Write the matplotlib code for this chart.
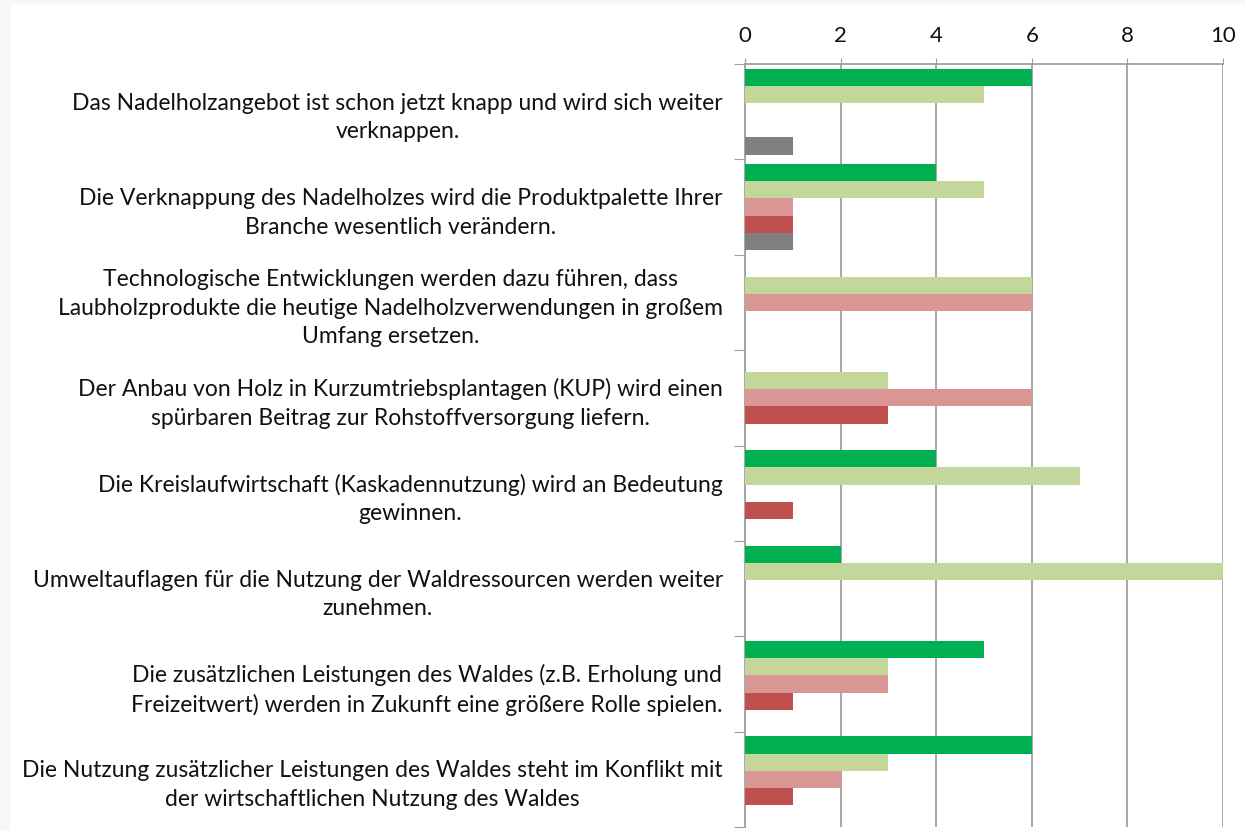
import matplotlib
matplotlib.use('Agg')
import matplotlib.pyplot as plt
import numpy as np

# statements (top to bottom)
labels = [
    'Das Nadelholzangebot ist schon jetzt knapp und wird sich weiter\nverknappen.',
    'Die Verknappung des Nadelholzes wird die Produktpalette Ihrer\nBranche wesentlich verändern.',
    'Technologische Entwicklungen werden dazu führen, dass\nLaubholzprodukte die heutige Nadelholzverwendungen in großem\nUmfang ersetzen.',
    'Der Anbau von Holz in Kurzumtriebsplantagen (KUP) wird einen\nspürbaren Beitrag zur Rohstoffversorgung liefern.',
    'Die Kreislaufwirtschaft (Kaskadennutzung) wird an Bedeutung\ngewinnen.',
    'Umweltauflagen für die Nutzung der Waldressourcen werden weiter\nzunehmen.',
    'Die zusätzlichen Leistungen des Waldes (z.B. Erholung und\nFreizeitwert) werden in Zukunft eine größere Rolle spielen.',
    'Die Nutzung zusätzlicher Leistungen des Waldes steht im Konflikt mit\nder wirtschaftlichen Nutzung des Waldes',
]

# answer counts per series
dark_green = [6, 4, 0, 0, 4, 2, 5, 6]
light_green = [5, 5, 6, 3, 7, 10, 3, 3]
pink = [0, 1, 6, 6, 0, 0, 3, 2]
red = [0, 1, 0, 3, 1, 0, 1, 1]
grey = [1, 1, 0, 0, 0, 0, 0, 0]

series = [dark_green, light_green, pink, red, grey]
colors = ['#00B050', '#C4D79B', '#DA9694', '#C0504D', '#808080']

plt.rcParams['font.family'] = 'Lato'

fig = plt.figure(figsize=(12.46, 8.31), dpi=100, facecolor='#f8f8f8')
fig.patches.append(plt.Rectangle((11 / 1246, 0), 1, 1 - 5 / 831,
                                 transform=fig.transFigure, color='white', zorder=-5))
ax = fig.add_axes([745 / 1246, 4 / 831, 478 / 1246, 763 / 831])
ax.set_zorder(2)
ax.patch.set_alpha(0)

n = len(labels)
y = np.arange(n)
bh = 0.18
for i, (vals, c) in enumerate(zip(series, colors)):
    ax.barh(y - 0.36 + i * bh, vals, height=bh, color=c, zorder=3)

ax.set_xlim(0, 10)
ax.set_ylim(n - 0.5, -0.5)
ax.xaxis.tick_top()
ax.set_xticks(range(0, 11, 2))
ax.tick_params(axis='x', length=4, color='#a0a0a0', labelsize=16, pad=9, labelcolor='#111111')
ax.grid(axis='x', color='#a0a0a0', linewidth=1.3, zorder=0)

# boundaries as major ticks, labels on minor ticks
ax.set_yticks(np.arange(-0.5, n, 1))
ax.set_yticklabels([])
ax.set_yticks(y, minor=True)
ax.set_yticklabels(labels, minor=True, fontsize=16.5, color='#111111')
ax.tick_params(axis='y', which='major', length=8, color='#a0a0a0')
ax.tick_params(axis='y', which='minor', length=0, pad=16)
for t in ax.get_yticklabels(minor=True):
    t.set_multialignment('center')
    t.set_linespacing(1.45)

for s in ['right', 'bottom']:
    ax.spines[s].set_visible(False)
for s in ['top', 'left']:
    ax.spines[s].set_color('#a0a0a0')
    ax.spines[s].set_linewidth(1.3)

fig.savefig('out.png', dpi=100, facecolor=fig.get_facecolor())
